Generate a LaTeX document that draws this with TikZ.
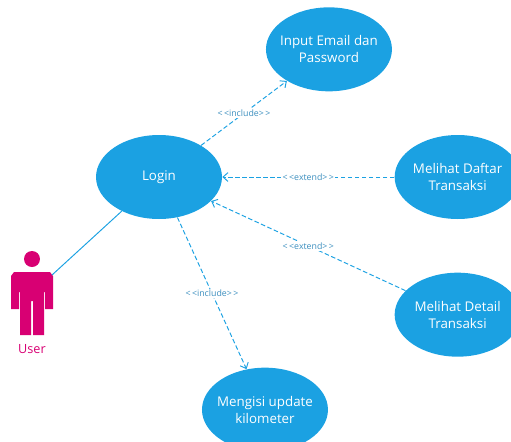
\documentclass[tikz,border=0pt]{standalone}
\usepackage{fontspec}
\setmainfont{Open Sans}
\usetikzlibrary{positioning}
\usetikzlibrary{arrows.meta}
\usetikzlibrary{shapes.geometric}
\usepackage{xcolor}
\definecolor{casefill}{HTML}{1BA1E2}
\definecolor{actorpink}{HTML}{D80073}
\definecolor{stereotext}{HTML}{3C8FBF}
\tikzset{
    usecase/.style={ellipse, fill=casefill, text=white, minimum width=2.52cm, minimum height=1.68cm, inner sep=-0.6cm, align=center, font=\fontsize{7.6}{9.7}\selectfont},
    relation/.style={casefill, line width=0.55pt, dash pattern=on 2.6pt off 1.4pt, -{Straight Barb[length=2.8pt, width=5pt, line width=0.55pt]}},
    stereo/.style={midway, fill=white, text=stereotext, inner sep=0.8pt, font=\fontsize{5}{6}\selectfont}
}
\begin{document}
\begin{tikzpicture}[x=0.02cm, y=-0.02cm]
    \clip (0,0) rectangle (511,441);
    \useasboundingbox (0,0) rectangle (511,441);

    % Use cases
    \node (login) [usecase] at (159,177) {Login};
    \node (input) [usecase, above=0.86cm of login, xshift=3.4cm] {Input Email dan\\Password};
    \node (daftar) [usecase, right=3.44cm of login] {Melihat Daftar\\Transaksi};
    \node (detail) [usecase, below=1.06cm of daftar] {Melihat Detail\\Transaksi};
    \node (update) [usecase, below=2.96cm of login, xshift=2.12cm] {Mengisi update\\kilometer};

    % Actor
    \node (head) [circle, fill=actorpink, minimum size=0.32cm, inner sep=0pt] at (32,259) {};
    \fill[actorpink] (14,272) -- (50,272) -- (53,276) -- (53,309) -- (45,309) -- (45,292) -- (44,292) -- (44,335) -- (33,335) -- (33,301) -- (31,301) -- (31,335) -- (20,335) -- (20,292) -- (19,292) -- (19,309) -- (11,309) -- (11,276) -- cycle;
    \coordinate (shoulder) at (52,275);
    \node (user) [text=actorpink, font=\fontsize{7.2}{10}\selectfont] at (32,349) {User};

    % Connectors
    \draw[casefill, line width=0.55pt] (login) -- (shoulder);
    \draw[relation] (login) -- node[stereo] {<\,<include>\,>} (input);
    \draw[relation] (daftar) -- node[stereo] {<\,<extend>\,>} (login);
    \draw[relation] (detail) -- node[stereo] {<\,<extend>\,>} (login);
    \draw[relation] (login) -- node[stereo] {<\,<include>\,>} (update);
\end{tikzpicture}
\end{document}
